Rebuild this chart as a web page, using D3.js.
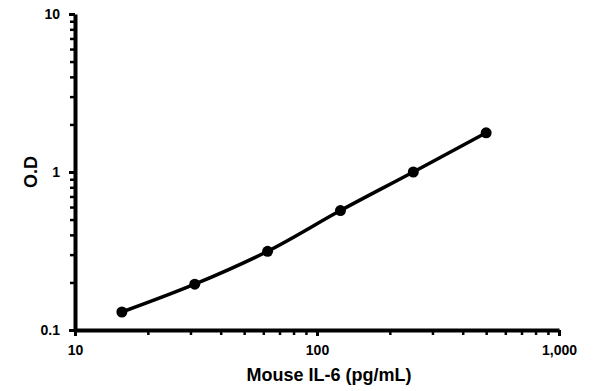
<!DOCTYPE html>
<html>
<head>
<meta charset="utf-8">
<script src="https://cdn.jsdelivr.net/npm/d3@7"></script>
<style>
  body { margin: 0; background: #fff; }
  text { font-family: "Liberation Sans", Arial, sans-serif; font-weight: bold; }
</style>
</head>
<body>
<svg id="chart" width="595" height="391"></svg>
<script>
const concentrations = [15.625, 31.25, 62.5, 125, 250, 500];
const odValues = [0.13, 0.195, 0.315, 0.57, 1.0, 1.77];
const xTicks = [10, 100, 1000];
const yTicks = [0.1, 1, 10];

const width = 595;
const height = 391;
const margin = { top: 14, right: 36, bottom: 61, left: 75 };
const plotWidth = width - margin.left - margin.right;
const plotHeight = height - margin.top - margin.bottom;

const svg = d3.select('#chart');

const scaleX = d3.scaleLog()
  .domain([10, 1000])
  .range([margin.left, margin.left + plotWidth]);
const scaleY = d3.scaleLog()
  .domain([0.1, 10])
  .range([margin.top + plotHeight, margin.top]);

// minor ticks
const minorX = [];
const minorY = [];
[10, 100].forEach((d) => { for (let i = 2; i < 10; i += 1) minorX.push(d * i); });
[0.1, 1].forEach((d) => { for (let i = 2; i < 10; i += 1) minorY.push(d * i); });

const fmt = d3.format(',');

svg.append('g')
  .attr('class', 'axis')
  .attr('transform', `translate(0, ${margin.top + plotHeight})`)
  .call(d3.axisBottom(scaleX).tickValues(minorX).tickSize(5).tickFormat(''))
  .call(g => g.select('.domain').remove())
  .call(g => g.selectAll('line').attr('stroke-width', 2.5));

svg.append('g')
  .attr('class', 'axis')
  .attr('transform', `translate(${margin.left}, 0)`)
  .call(d3.axisLeft(scaleY).tickValues(minorY).tickSize(5).tickFormat(''))
  .call(g => g.select('.domain').remove())
  .call(g => g.selectAll('line').attr('stroke-width', 2.5));

svg.append('g')
  .attr('class', 'axis')
  .attr('transform', `translate(0, ${margin.top + plotHeight})`)
  .call(d3.axisBottom(scaleX).tickValues(xTicks).tickSize(6).tickSizeOuter(0).tickPadding(9).tickFormat(fmt))
  .call(g => g.select('.domain').attr('stroke-width', 4))
  .call(g => g.selectAll('line').attr('stroke-width', 3))
  .call(g => g.selectAll('text').attr('font-size', 14).attr('fill', '#000'));

svg.append('g')
  .attr('class', 'axis')
  .attr('transform', `translate(${margin.left}, 0)`)
  .call(d3.axisLeft(scaleY).tickValues(yTicks).tickSize(6).tickSizeOuter(0).tickPadding(9).tickFormat(d => String(d)))
  .call(g => g.select('.domain').attr('stroke-width', 4))
  .call(g => g.selectAll('line').attr('stroke-width', 3))
  .call(g => g.selectAll('text').attr('font-size', 14).attr('fill', '#000'));

const points = concentrations.map((c, i) => ({ x: c, y: odValues[i] }));

const line = d3.line()
  .x(d => scaleX(d.x))
  .y(d => scaleY(d.y))
  .curve(d3.curveCatmullRom);

svg.append('path')
  .datum(points)
  .attr('d', line)
  .attr('fill', 'none')
  .attr('stroke', '#000')
  .attr('stroke-width', 3.5);

svg.selectAll('circle')
  .data(points)
  .enter().append('circle')
  .attr('cx', d => scaleX(d.x))
  .attr('cy', d => scaleY(d.y))
  .attr('r', 5.5)
  .attr('fill', '#000');

svg.append('text')
  .attr('x', margin.left + plotWidth / 2 + 12)
  .attr('y', 381)
  .attr('text-anchor', 'middle')
  .attr('font-size', 18)
  .text('Mouse IL-6 (pg/mL)');

svg.append('text')
  .attr('transform', `translate(37, ${margin.top + plotHeight / 2}) rotate(-90)`)
  .attr('text-anchor', 'middle')
  .attr('font-size', 18)
  .text('O.D');
</script>
</body>
</html>
